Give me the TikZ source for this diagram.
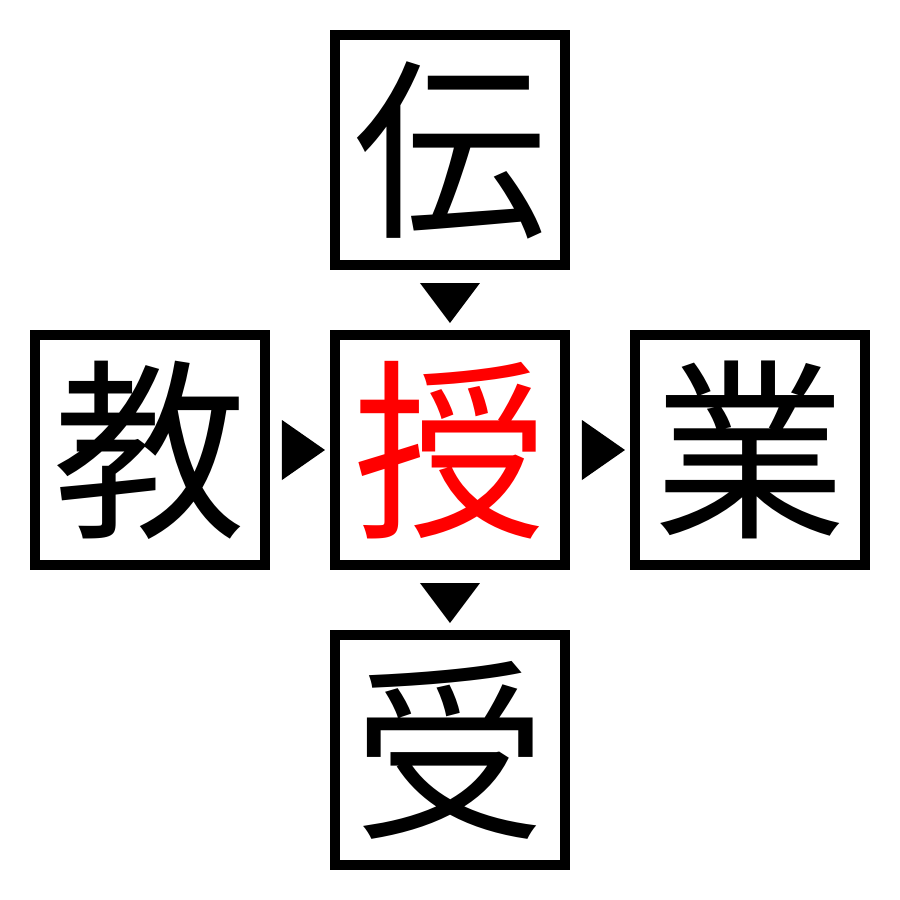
\documentclass[tikz,border=0pt]{standalone}
\usepackage{fontspec}
\newfontfamily\jpfont{Noto Sans CJK JP}
\usetikzlibrary{positioning,calc}
\tikzset{
  kanji/.style={draw, line width=0.1cm, minimum size=2.3cm, inner sep=0pt,
    font=\jpfont\fontsize{55pt}{55pt}\selectfont},
}
\newcommand{\downtri}[1]{\fill ([yshift=-0.13cm]#1.south) ++(-0.3,0) -- ++(0.6,0) -- ++(-0.3,-0.4) -- cycle;}
\newcommand{\righttri}[1]{\fill ([xshift=0.12cm]#1.east) ++(0,0.3) -- ++(0,-0.6) -- ++(0.43,0.3) -- cycle;}
\begin{document}
\begin{tikzpicture}
  \useasboundingbox (-4.5,-4.5) rectangle (4.5,4.5);
  \node[kanji, text=red] (ju) at (0,0) {授};
  \node[kanji] (den) at (0,3) {伝};
  \node[kanji] (kyo) at (-3,0) {教};
  \node[kanji] (gyo) at (3,0) {業};
  \node[kanji] (uke) at (0,-3) {受};
  \downtri{den}
  \downtri{ju}
  \righttri{kyo}
  \righttri{ju}
\end{tikzpicture}
\end{document}
